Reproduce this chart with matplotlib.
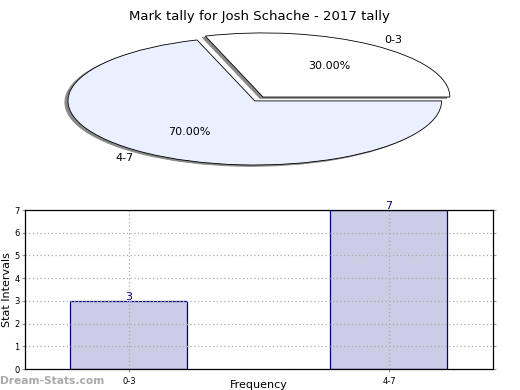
import matplotlib
matplotlib.use("Agg")
import matplotlib.pyplot as plt
import numpy as np

# data
categories = ['0-3', '4-7']
counts = [3, 7]
pie_colors = ['#ffffff', '#eaf0ff']
explode = [0.075, 0.0]

fig = plt.figure(figsize=(5.2, 3.9), dpi=100)

##### pie (flattened ellipse) #####
ax_pie = fig.add_axes([0.0948, 0.5605, 0.7904, 0.3615])
ax_pie.pie(counts, labels=categories, colors=pie_colors, explode=explode,
           startangle=0, counterclock=True, autopct='%.2f%%',
           pctdistance=0.6, labeldistance=1.1,
           shadow={'ox': -0.012, 'oy': -0.015, 'color': '#888888', 'alpha': 1.0},
           wedgeprops={'edgecolor': 'black', 'linewidth': 0.6},
           textprops={'fontsize': 8})
ax_pie.set_aspect('auto')
ax_pie.set_xlim(-1.1, 1.1)
ax_pie.set_ylim(-1.1, 1.1)
ax_pie.axis('off')

fig.text(0.498, 0.975, 'Mark tally for Josh Schache - 2017 tally',
         ha='center', va='top', fontsize=9.5)

##### bar chart #####
ax = fig.add_axes([0.048, 0.0538, 0.9, 0.4077])
x = np.arange(len(categories))
ax.bar(x, counts, width=0.45, color='#ccccE6', edgecolor='#000080',
       linewidth=0.9, zorder=1)
for xi, c in zip(x, counts):
    ax.text(xi, c - 0.05, str(c), ha='center', va='bottom',
            color='#000080', fontsize=8, zorder=3)

ax.set_xlim(-0.4, 1.4)
ax.set_ylim(0, 7)
ax.set_xticks(x)
ax.set_xticklabels(categories, fontsize=6)
ax.set_yticks(range(0, 8))
ax.tick_params(axis='y', labelsize=6, length=2, pad=2, right=True, color='#999999')
ax.tick_params(axis='x', length=2, color='#999999')
ax.grid(True, color='#aaaaaa', linestyle=(0, (1, 2)), linewidth=0.9, zorder=2)
ax.set_axisbelow(False)
ax.set_ylabel('Stat Intervals', fontsize=8)
ax.yaxis.set_label_coords(-0.027, 0.5)
for s in ax.spines.values():
    s.set_linewidth(0.9)
    s.set_zorder(4)

fig.text(0.497, 0.0, 'Frequency', ha='center', va='bottom', fontsize=8)
fig.text(0.0, 0.01, 'Dream-Stats.com', ha='left', va='bottom',
         fontsize=7.7, color='#aaaaaa', fontweight='bold')

fig.savefig('out.png', dpi=100)
